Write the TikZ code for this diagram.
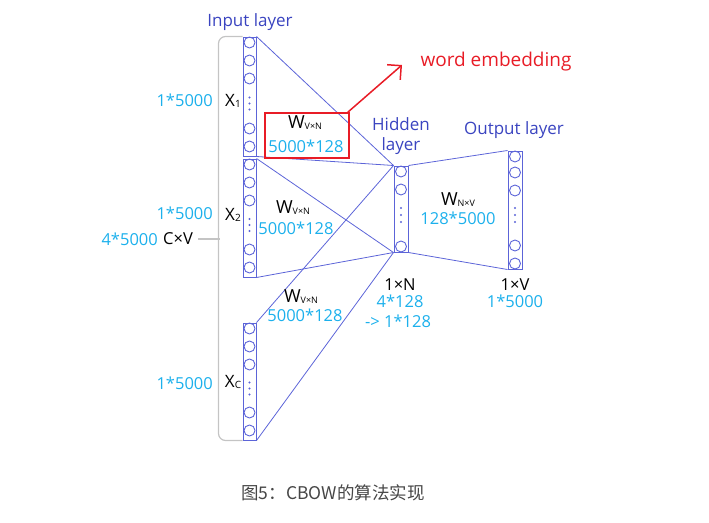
\documentclass[tikz,border=0pt]{standalone}
\usepackage{fontspec}
\setmainfont{Open Sans}
\newfontfamily\cjkfont{Noto Sans CJK SC}
\usetikzlibrary{arrows.meta,calc}
\definecolor{lblue}{RGB}{92,100,216}
\definecolor{tblue}{RGB}{58,68,192}
\definecolor{tcyan}{RGB}{28,176,236}
\definecolor{tred}{RGB}{232,28,38}
\definecolor{bgray}{RGB}{196,196,196}
\definecolor{capgray}{RGB}{70,70,70}
\newcommand\Wlab[1]{{\fontsize{18}{18}\selectfont W}\raisebox{-1pt}{\fontsize{9}{9}\selectfont #1}}
\newcommand\Xlab[1]{{\fontsize{17}{17}\selectfont X}\raisebox{-0.5pt}{\fontsize{10}{10}\selectfont #1}}
\begin{document}
\begin{tikzpicture}[x=1pt,y=-1pt,
  colbox/.style={draw=lblue,line width=1pt,rectangle,inner sep=0pt,minimum width=13pt},
  cell/.style={draw=lblue,line width=0.9pt},
  conn/.style={draw=lblue,line width=0.8pt},
  lbl/.style={inner sep=0pt,font=\fontsize{16.5}{20}\selectfont},
  blbl/.style={inner sep=0pt,font=\fontsize{17}{20}\selectfont,text=tblue},
  clbl/.style={lbl,text=tcyan},
  klbl/.style={lbl,text=black},
  bracket/.style={draw=bgray,line width=1.2pt,rounded corners=7pt}]
\useasboundingbox (0,0) rectangle (709,522);
% columns
\node[colbox,minimum height=119pt] (c1) at (249.5,96.5) {};
\node[colbox,minimum height=118pt] (c2) at (249.5,218) {};
\node[colbox,minimum height=117pt] (c3) at (249.5,381.5) {};
\node[colbox,minimum width=14pt,minimum height=86pt] (h) at (401,209) {};
\node[colbox,minimum width=14pt,minimum height=118pt] (o) at (515,210) {};
% bracket
\draw[bracket] (c1.north west) -- ++(-24,0) |- (c3.south west);
\coordinate (tk) at (198,239);
\draw[draw=bgray,line width=1.2pt] (tk) -- (219.5,239);
% cells
\foreach \n in {c1,c2,c3}{
  \foreach \o in {6,24,42} \draw[cell] ($(\n.north)+(0,\o)$) circle[radius=5.5];
  \foreach \o in {10,28} \draw[cell] ($(\n.south)+(0,-\o)$) circle[radius=5.5];
  \foreach \o in {1,7,13} \fill[lblue] ($(\n.center)+(0,\o)$) circle[radius=1.1];
}
\foreach \o in {6,24} \draw[cell] ($(h.north)+(0,\o)$) circle[radius=5.5];
\draw[cell] ($(h.south)+(0,-6)$) circle[radius=5.5];
\foreach \o in {-1,6,13} \fill[lblue] ($(h.center)+(0,\o)$) circle[radius=1.1];
\foreach \o in {6,22,40} \draw[cell] ($(o.north)+(0,\o)$) circle[radius=5.5];
\foreach \o in {6,24} \draw[cell] ($(o.south)+(0,-\o)$) circle[radius=5.5];
\foreach \o in {-2,5,12} \fill[lblue] ($(o.center)+(0,\o)$) circle[radius=1.1];
% connections
\draw[conn] (c1.north east) -- (h.north west);
\draw[conn] (c1.south east) -- (h.north west);
\draw[conn] (c2.north east) -- (h.south west);
\draw[conn] (c2.south east) -- (h.south west);
\draw[conn] (c3.north east) -- (h.north west);
\draw[conn] (c3.south east) -- (h.south west);
\draw[conn] (h.north east) -- (o.north west);
\draw[conn] (h.south east) -- (o.south west);
% titles
\node[blbl] (tin) at (250,22) {Input layer};
\node[blbl,align=center] (thid) at (401,136) {Hidden\\layer};
\node[blbl] (tout) at (514,130) {Output layer};
% input labels
\node[clbl,anchor=east] (s1) at (213,100) {1*5000};
\node[klbl] (x1) at (233,101) {\Xlab{1}};
\node[clbl,anchor=east] (s2) at (213,213) {1*5000};
\node[klbl] (x2) at (233,215) {\Xlab{2}};
\node[clbl,anchor=east] (s3) at (213,383) {1*5000};
\node[klbl] (x3) at (233,382) {\Xlab{C}};
\node[clbl,anchor=east] (sall) at (158,239) {4*5000};
\node[klbl,anchor=west] (cv) at (163,239) {C×V};
% weights
\node[draw=tred,line width=1.5pt,minimum width=84pt,minimum height=45pt,inner sep=0pt] (emb) at (307,135.5) {};
\node[klbl] (w1) at (305,123) {\Wlab{V×N}};
\node[clbl] (w1s) at (306,146) {5000*128};
\node[klbl] (w2) at (293,208) {\Wlab{V×N}};
\node[clbl] (w2s) at (296,228) {5000*128};
\node[klbl] (w3) at (301,297) {\Wlab{V×N}};
\node[clbl] (w3s) at (305,315) {5000*128};
\node[klbl] (w4) at (458,200) {\Wlab{N×V}};
\node[clbl] (w4s) at (458,218) {128*5000};
% sizes
\node[klbl] (n1) at (400,285) {1×N};
\node[clbl] (n2) at (400,301) {4*128};
\node[clbl] (n3) at (398,321) {-> 1*128};
\node[klbl] (v1) at (515,285) {1×V};
\node[clbl] (v2) at (515,301) {1*5000};
% annotation
\node[inner sep=0pt,text=tred,font=\fontsize{19}{22}\selectfont] (we) at (496,62) {word embedding};
\coordinate (ahead) at (402,65);
\draw[tred,line width=1.5pt,-{Straight Barb[length=10pt,width=20pt]}] ([xshift=-2pt]emb.north east) -- (ahead);
% caption
\node[inner sep=0pt,text=capgray,font=\cjkfont\fontsize{17.5}{20}\selectfont] (cap) at (333,493) {图5：CBOW的算法实现};
\end{tikzpicture}
\end{document}
